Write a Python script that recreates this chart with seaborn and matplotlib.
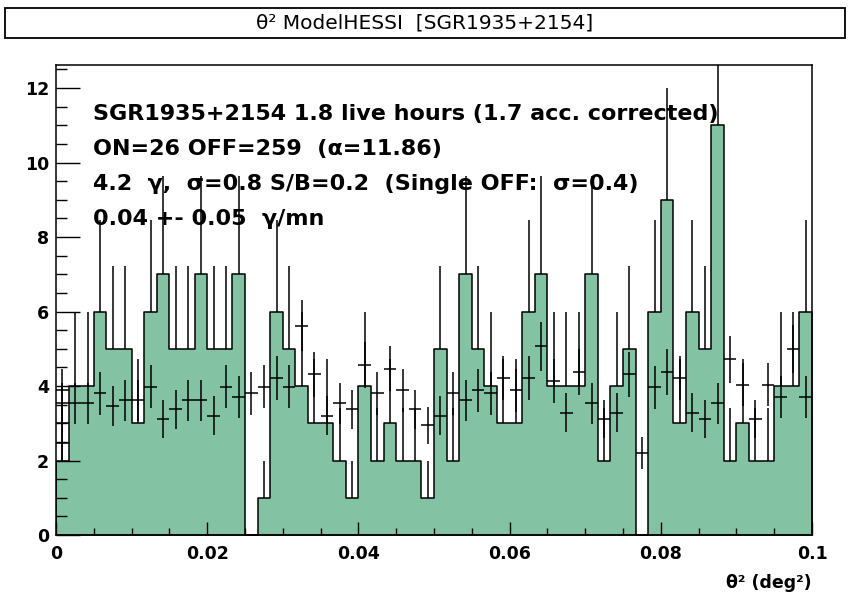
import numpy as np
import pandas as pd
import matplotlib
matplotlib.use("Agg")
import matplotlib.pyplot as plt
from matplotlib.patches import Rectangle
from matplotlib.ticker import MultipleLocator
import seaborn as sns

# ---------------- data ----------------
x_min, x_max, n_bins = 0.0, 0.1, 60

on_counts = [2, 4, 4, 6, 5, 5, 3, 6, 7, 5,
             5, 7, 5, 5, 7, 0, 1, 6, 5, 4,
             3, 3, 2, 1, 4, 2, 3, 2, 2, 1,
             5, 2, 7, 5, 4, 3, 3, 6, 7, 4,
             4, 4, 7, 2, 4, 5, 0, 6, 9, 3,
             6, 5, 11, 2, 3, 2, 2, 4, 4, 6]

off_norm = [3.54, 3.54, 3.54, 3.80, 3.46, 3.62, 3.62, 3.98, 3.11, 3.37,
            3.62, 3.62, 3.20, 3.98, 3.71, 3.80, 3.98, 4.22, 3.98, 5.62,
            4.31, 3.20, 3.54, 3.37, 4.56, 3.80, 4.47, 3.88, 3.37, 2.95,
            3.20, 3.80, 3.62, 3.88, 3.80, 4.22, 3.88, 4.22, 5.07, 4.13,
            3.28, 4.38, 3.54, 3.11, 3.28, 4.31, 2.19, 3.97, 4.38, 4.22,
            3.28, 3.11, 3.54, 4.72, 4.04, 3.11, 4.04, 3.71, 4.99, 3.71]

alpha_norm = 11.86

# extra marks drawn in the first bin
first_bin_levels = [2.47, 3.01, 3.89]
first_bin_span = [2.0, 4.47]

title_text = "θ² ModelHESSI  [SGR1935+2154]"
info_lines = ["SGR1935+2154 1.8 live hours (1.7 acc. corrected)",
              "ON=26 OFF=259  (α=11.86)",
              "4.2  γ,  σ=0.8 S/B=0.2  (Single OFF:  σ=0.4)",
              "0.04 +- 0.05  γ/mn"]
x_ticks = [0, 0.02, 0.04, 0.06, 0.08, 0.1]
x_tick_labels = ["0", "0.02", "0.04", "0.06", "0.08", "0.1"]
y_ticks = [0, 2, 4, 6, 8, 10, 12]
y_tick_labels = ["0", "2", "4", "6", "8", "10", "12"]
x_label = "θ² (deg²)"

# ---------------- derived ----------------
edges = np.linspace(x_min, x_max, n_bins + 1)
centers = 0.5 * (edges[:-1] + edges[1:])
width = edges[1] - edges[0]
on = np.array(on_counts, dtype=float)
off = np.array(off_norm)
df = pd.DataFrame({"theta2": centers, "on": on, "off": off})

# ---------------- figure ----------------
sns.set_style("ticks")
plt.rcParams["font.family"] = ["DejaVu Sans"]
plt.rcParams["text.color"] = "black"
plt.rcParams["xtick.color"] = "black"
plt.rcParams["ytick.color"] = "black"
plt.rcParams["axes.labelcolor"] = "black"

W, H = 850, 593
fig = plt.figure(figsize=(W / 100, H / 100), dpi=100)
ax = fig.add_axes([56 / W, (H - 535) / H, 756 / W, 470 / H])

fill_color = "#84C2A4"
lw = 1.1

# ON error bars (lower half hidden by fill)
ax.vlines(df["theta2"], df["on"] - np.sqrt(df["on"]), df["on"] + np.sqrt(df["on"]),
          color="black", lw=lw, zorder=1)

sns.histplot(data=df, x="theta2", weights="on", bins=n_bins, binrange=(x_min, x_max),
             element="step", fill=True, color=fill_color, alpha=1,
             edgecolor="black", linewidth=lw, ax=ax, zorder=2)

# OFF normalised points
ax.errorbar(df["theta2"], df["off"], xerr=width / 2,
            yerr=np.sqrt(df["off"] / alpha_norm), fmt="none",
            ecolor="black", elinewidth=lw, capsize=0, zorder=3)
ax.hlines(first_bin_levels, edges[0], edges[1], color="black", lw=lw, zorder=3)
ax.vlines(centers[0], first_bin_span[0], first_bin_span[1], color="black", lw=lw, zorder=3)

ax.set_xlim(x_min, x_max)
ax.set_ylim(0, 12.62)
ax.set_xlabel("")
ax.set_ylabel("")
ax.set_axisbelow(False)

ax.set_xticks(x_ticks)
ax.set_xticklabels(x_tick_labels, fontsize=12.5, fontweight="bold")
ax.set_yticks(y_ticks)
ax.set_yticklabels(y_tick_labels, fontsize=12.5, fontweight="bold")
ax.xaxis.set_minor_locator(MultipleLocator(0.005))
ax.yaxis.set_minor_locator(MultipleLocator(0.5))
ax.tick_params(axis="x", which="major", direction="in", length=9.5, width=1.0, pad=7,
               color="black", labelcolor="black")
ax.tick_params(axis="x", which="minor", direction="in", length=5, width=1.0, color="black")
ax.tick_params(axis="y", which="major", direction="in", length=17, width=1.0, pad=5,
               color="black", labelcolor="black")
ax.tick_params(axis="y", which="minor", direction="in", length=8, width=1.0, color="black")
ax.tick_params(top=False, right=False, which="both")
for s in ax.spines.values():
    s.set_visible(True)
    s.set_linewidth(1.1)
    s.set_color("black")
    s.set_zorder(5)

fig.text(812 / W, 1 - 588 / H, x_label, fontsize=12.5, fontweight="bold",
         ha="right", va="baseline", color="black")

# information text
baselines = [120, 154.5, 190, 225]
for line, yb in zip(info_lines, baselines):
    fig.text(93 / W, 1 - yb / H, line, fontsize=16, fontweight="bold",
             ha="left", va="baseline", zorder=6, color="black")

# title box
fig.patches.append(Rectangle((5 / W, 1 - 38 / H), 840 / W, 30 / H,
                             transform=fig.transFigure, fill=False,
                             edgecolor="black", lw=1.3))
fig.text(425 / W, 1 - 23 / H, title_text, fontsize=14.5, ha="center", va="center",
         color="black")

fig.savefig("out.png", dpi=100)
